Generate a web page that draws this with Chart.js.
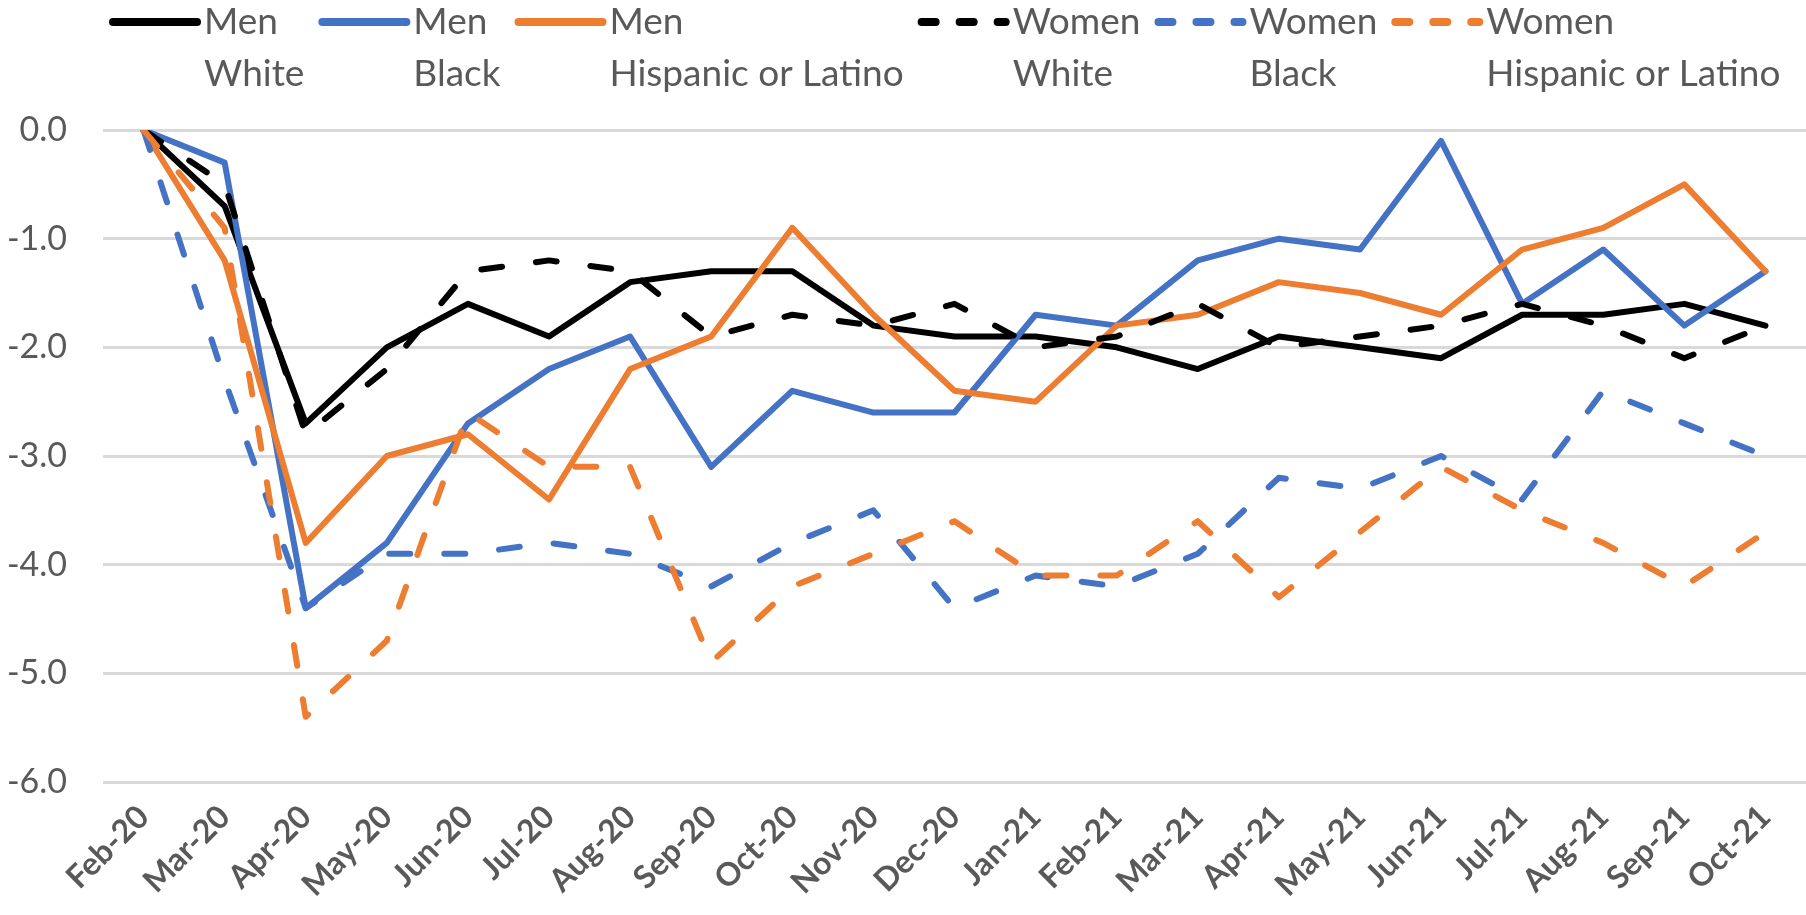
<!DOCTYPE html>
<html>
<head>
<meta charset="utf-8">
<script src="https://cdn.jsdelivr.net/npm/chart.js@4.4.1/dist/chart.umd.min.js"></script>
<style>
  html, body { margin: 0; padding: 0; background: #fff; }
  #wrap { width: 1806px; height: 915px; }
</style>
</head>
<body>
<div id="wrap"><canvas id="gapChart" width="1806" height="915"></canvas></div>
<script>
const months = ['Feb-20', 'Mar-20', 'Apr-20', 'May-20', 'Jun-20', 'Jul-20', 'Aug-20',
  'Sep-20', 'Oct-20', 'Nov-20', 'Dec-20', 'Jan-21', 'Feb-21', 'Mar-21', 'Apr-21',
  'May-21', 'Jun-21', 'Jul-21', 'Aug-21', 'Sep-21', 'Oct-21'];

const menWhite    = [0.0, -0.7, -2.7, -2.0, -1.6, -1.9, -1.4, -1.3, -1.3, -1.8, -1.9, -1.9, -2.0, -2.2, -1.9, -2.0, -2.1, -1.7, -1.7, -1.6, -1.8];
const menBlack    = [0.0, -0.3, -4.4, -3.8, -2.7, -2.2, -1.9, -3.1, -2.4, -2.6, -2.6, -1.7, -1.8, -1.2, -1.0, -1.1, -0.1, -1.6, -1.1, -1.8, -1.3];
const menHispanic = [0.0, -1.2, -3.8, -3.0, -2.8, -3.4, -2.2, -1.9, -0.9, -1.7, -2.4, -2.5, -1.8, -1.7, -1.4, -1.5, -1.7, -1.1, -0.9, -0.5, -1.3];
const womenWhite    = [0.0, -0.5, -2.8, -2.2, -1.3, -1.2, -1.3, -1.9, -1.7, -1.8, -1.6, -2.0, -1.9, -1.6, -2.0, -1.9, -1.8, -1.6, -1.8, -2.1, -1.8];
const womenBlack    = [0.0, -2.3, -4.4, -3.9, -3.9, -3.8, -3.9, -4.2, -3.8, -3.5, -4.4, -4.1, -4.2, -3.9, -3.2, -3.3, -3.0, -3.4, -2.4, -2.7, -3.0];
const womenHispanic = [0.0, -0.9, -5.4, -4.7, -2.6, -3.1, -3.1, -4.9, -4.2, -3.9, -3.6, -4.1, -4.1, -3.6, -4.3, -3.7, -3.1, -3.5, -3.8, -4.2, -3.7];

const groups = ['Men', 'Men', 'Men', 'Women', 'Women', 'Women'];
const races = ['White', 'Black', 'Hispanic or Latino', 'White', 'Black', 'Hispanic or Latino'];

const BLACK = '#000000';
const BLUE = '#4472C4';
const ORANGE = '#ED7D31';
const TEXT = '#595959';
const DASH = [21, 34];

const seriesValues = [menWhite, menBlack, menHispanic, womenWhite, womenBlack, womenHispanic];
const seriesColors = [BLACK, BLUE, ORANGE, BLACK, BLUE, ORANGE];

const datasets = seriesValues.map((values, i) => ({
  label: groups[i] + ' ' + races[i],
  data: values,
  borderColor: seriesColors[i],
  backgroundColor: seriesColors[i],
  borderWidth: 6,
  borderDash: groups[i] === 'Women' ? DASH : [],
  borderCapStyle: 'round',
  borderJoinStyle: 'round',
  pointRadius: 0,
  tension: 0,
  fill: false,
  // later series sit on top, like the spreadsheet original
  order: seriesValues.length - i,
}));

// two-line legend: group on top, race below
const twoLineLegend = {
  id: 'twoLineLegend',
  afterDraw(chart) {
    const ctx = chart.ctx;
    ctx.save();
    ctx.font = '37px Lato';
    ctx.textBaseline = 'middle';
    ctx.textAlign = 'left';
    let x = 109;
    const row1 = 22, row2 = 74;
    chart.data.datasets.forEach((ds, i) => {
      ctx.strokeStyle = ds.borderColor;
      ctx.lineWidth = 8;
      ctx.lineCap = 'round';
      ctx.setLineDash(ds.borderDash.length ? [14, 24] : []);
      ctx.beginPath();
      ctx.moveTo(x + 4, row1);
      ctx.lineTo(x + 88, row1);
      ctx.stroke();
      ctx.setLineDash([]);
      const tx = x + 95;
      ctx.fillStyle = TEXT;
      ctx.fillText(groups[i], tx, row1);
      ctx.fillText(races[i], tx, row2);
      const w = Math.max(ctx.measureText(groups[i]).width, ctx.measureText(races[i]).width);
      x = tx + w + 14;
    });
    ctx.restore();
  }
};

new Chart(document.getElementById('gapChart'), {
  type: 'line',
  data: { labels: months, datasets: datasets },
  plugins: [twoLineLegend],
  options: {
    responsive: false,
    animation: false,
    layout: { padding: { top: 130, left: 0, right: 0, bottom: 0 } },
    plugins: {
      legend: { display: false },
      tooltip: { enabled: false }
    },
    scales: {
      x: {
        offset: true,
        grid: { display: false },
        border: { display: false },
        ticks: {
          color: TEXT,
          font: { family: 'Lato', size: 32, weight: 'bold' },
          maxRotation: 45,
          minRotation: 45,
          autoSkip: false,
          padding: 8
        },
        afterFit(scale) { scale.height = 133; }
      },
      y: {
        min: -6,
        max: 0,
        grid: { color: '#D9D9D9', lineWidth: 3, drawTicks: false },
        border: { display: false },
        ticks: {
          stepSize: 1,
          color: TEXT,
          font: { family: 'Lato', size: 34 },
          padding: 36,
          callback: v => v.toFixed(1)
        },
        afterFit(scale) { scale.width = 103; }
      }
    }
  }
});
</script>
</body>
</html>
